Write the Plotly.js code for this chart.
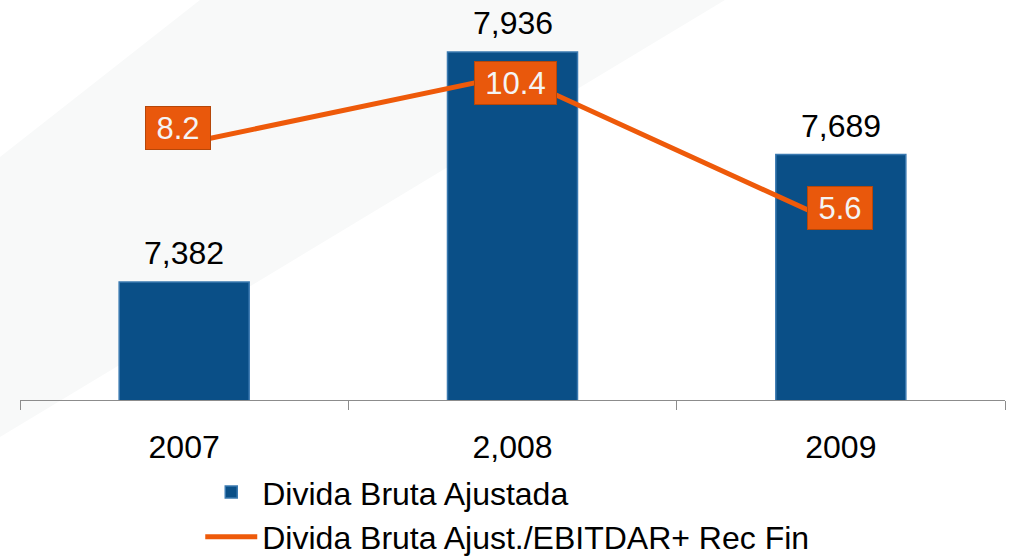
<!DOCTYPE html>
<html>
<head>
<meta charset="utf-8">
<script src="https://cdn.plot.ly/plotly-3.0.1.min.js"></script>
<style>
  html, body { margin: 0; padding: 0; background: #ffffff; }
  #chart { width: 1011px; height: 557px; }
</style>
</head>
<body>
<div id="chart"></div>
<script>
// Chart data
const years = ['2007', '2,008', '2009'];
const grossDebt = [7382, 7936, 7689];
const debtRatio = [8.2, 10.4, 5.6];

const seriesNames = ['Divida Bruta Ajustada', 'Divida Bruta Ajust./EBITDAR+ Rec Fin'];

// label box placement (px), not data
const ratioShiftX = [-6, 3, -1];
const ratioShiftY = [16, -8, 17];
const ratioBoxWidth = [58, 75, 58];

const FONT = 'Liberation Sans, Arial, sans-serif';
const BLUE = '#0a4f87';
const ORANGE = '#ee5a0a';

const bars = {
  x: years,
  y: grossDebt,
  name: seriesNames[0],
  type: 'bar',
  marker: { color: BLUE, line: { color: '#3a79b0', width: 1.5 } },
  hoverinfo: 'x+y',
};

const line = {
  x: years,
  y: debtRatio,
  name: seriesNames[1],
  type: 'scatter',
  mode: 'lines',
  yaxis: 'y2',
  line: { color: ORANGE, width: 5 },
};

// category axis: annotations use the category index, since '2007' would read as an index
const annotations = [];
years.forEach((yr, i) => {
  annotations.push({
    x: i, y: grossDebt[i], xref: 'x', yref: 'y',
    text: grossDebt[i].toLocaleString('en-US'),
    showarrow: false, yanchor: 'middle', yshift: 29,
    font: { family: FONT, size: 32, color: '#000000' },
  });
  annotations.push({
    x: i, y: debtRatio[i], xref: 'x', yref: 'y2',
    text: debtRatio[i].toFixed(1),
    showarrow: false, xshift: ratioShiftX[i], yshift: ratioShiftY[i],
    width: ratioBoxWidth[i], height: 36,
    bgcolor: '#e9580c', bordercolor: '#b5470a', borderwidth: 1, borderpad: 3,
    font: { family: FONT, size: 31, color: '#f4f4f4' },
  });
});

// faint slide background band
const shapes = [{
  type: 'path', xref: 'paper', yref: 'paper', layer: 'below',
  path: 'M -0.0203 0.623 L 0.1827 1.0256 L 0.7157 1.0256 L -0.0203 -0.0949 Z',
  fillcolor: '#f8f9f9', line: { width: 0 },
}];

Plotly.newPlot('chart', [bars, line], {
  width: 1011,
  height: 557,
  margin: { l: 20, r: 6, t: 10, b: 157, autoexpand: false },
  paper_bgcolor: '#ffffff',
  plot_bgcolor: 'rgba(0,0,0,0)',
  font: { family: FONT, size: 32, color: '#000000' },
  bargap: 0.604,
  showlegend: true,
  legend: {
    x: 0.183, y: -0.166, xanchor: 'left', yanchor: 'top',
    orientation: 'v', bgcolor: 'rgba(0,0,0,0)',
    font: { family: FONT, size: 32, color: '#000000' },
    itemwidth: 52,
    tracegroupgap: 0,
  },
  xaxis: {
    type: 'category',
    categoryorder: 'array', categoryarray: years,
    range: [-0.5, 2.5],
    showline: true, linecolor: '#8c8c8c', linewidth: 1,
    ticks: 'outside', ticklen: 9, tickcolor: '#8c8c8c',
    tickson: 'boundaries',
    showgrid: false, zeroline: false,
    tickangle: 0,
    tickfont: { family: FONT, size: 32, color: '#000000' },
    ticklabelstandoff: 19,
  },
  yaxis: {
    range: [7098, 8037],
    showticklabels: false, showgrid: false, zeroline: false, showline: false,
  },
  yaxis2: {
    range: [0, 12.48], overlaying: 'y', side: 'right',
    showticklabels: false, showgrid: false, zeroline: false, showline: false,
  },
  annotations: annotations,
  shapes: shapes,
}, { displayModeBar: false, staticPlot: true });
</script>
</body>
</html>
